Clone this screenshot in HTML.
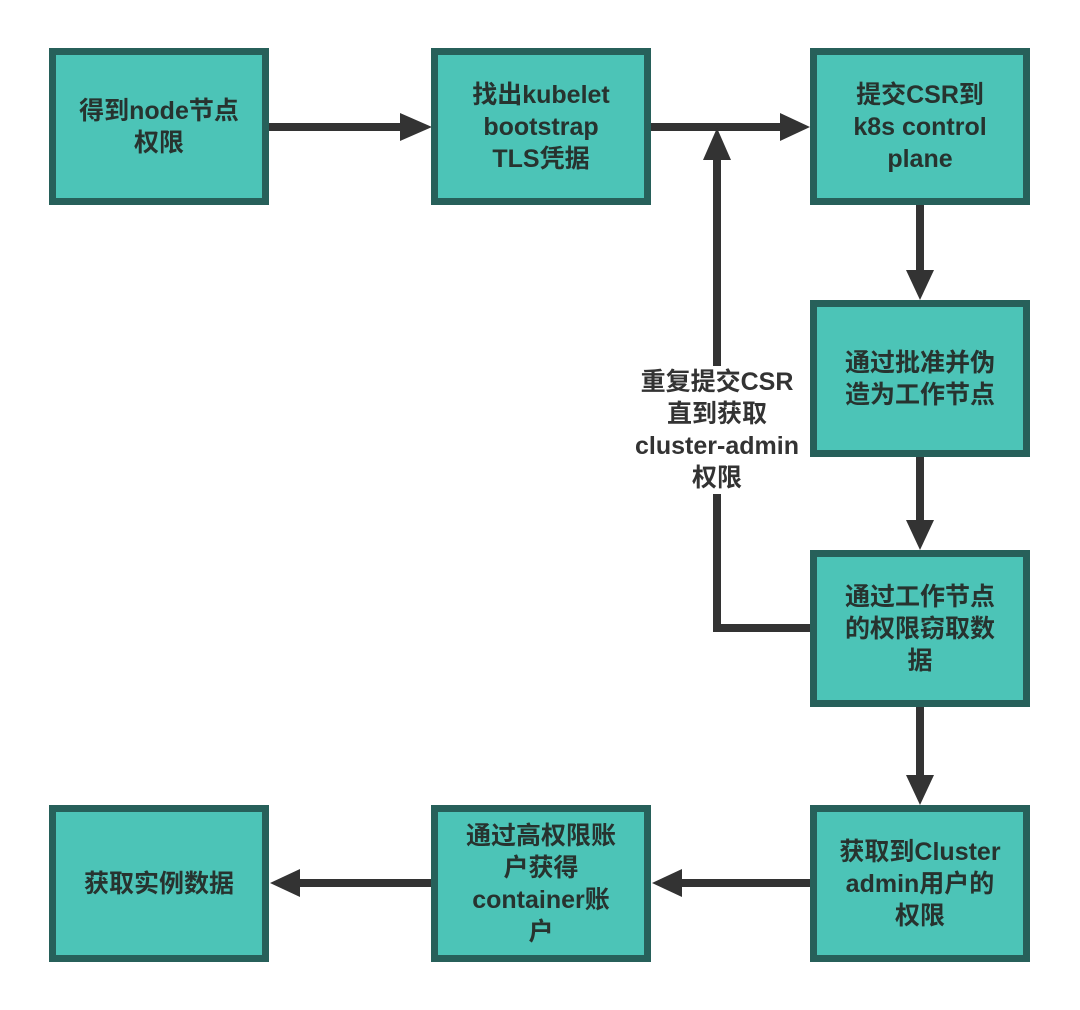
<!DOCTYPE html>
<html><head><meta charset="utf-8"><style>
body{margin:0;width:1080px;height:1010px;background:#fff;position:relative;overflow:hidden;font-family:"Liberation Sans","Noto Sans CJK SC",sans-serif}
.b{position:absolute;box-sizing:border-box;border:7px solid #27605a;background:#4cc4b7;display:flex;align-items:center;justify-content:center;text-align:center;font-weight:bold;font-size:25px;line-height:32px;color:#27332f;white-space:nowrap}
.lbl{position:absolute;left:627px;top:366px;width:180px;text-align:center;font-weight:bold;font-size:25px;line-height:32px;color:#333;background:#fff;white-space:nowrap}
svg{position:absolute;left:0;top:0}
</style></head><body>
<svg width="1080" height="1010">
<g stroke="#333" stroke-width="8" fill="none">
<line x1="268" y1="127" x2="405" y2="127"/>
<line x1="650" y1="127" x2="785" y2="127"/>
<line x1="920" y1="205" x2="920" y2="275"/>
<line x1="920" y1="456" x2="920" y2="525"/>
<line x1="920" y1="706" x2="920" y2="780"/>
<line x1="810" y1="883" x2="678" y2="883"/>
<line x1="432" y1="883" x2="296" y2="883"/>
<polyline points="810,628 717,628 717,155"/>
</g>
<g fill="#333">
<polygon points="400,113 432,127 400,141"/>
<polygon points="780,113 810,127 780,141"/>
<polygon points="906,270 920,300 934,270"/>
<polygon points="906,520 920,550 934,520"/>
<polygon points="906,775 920,805 934,775"/>
<polygon points="682,869 652,883 682,897"/>
<polygon points="300,869 270,883 300,897"/>
<polygon points="703,160 717,128 731,160"/>
</g>
</svg>
<div class="lbl">重复提交CSR<br>直到获取<br>cluster-admin<br>权限</div>
<div class="b" style="left:49px;top:48px;width:220px;height:157px">得到node节点<br>权限</div>
<div class="b" style="left:431px;top:48px;width:220px;height:157px">找出kubelet<br>bootstrap<br>TLS凭据</div>
<div class="b" style="left:810px;top:48px;width:220px;height:157px">提交CSR到<br>k8s control<br>plane</div>
<div class="b" style="left:810px;top:300px;width:220px;height:157px">通过批准并伪<br>造为工作节点</div>
<div class="b" style="left:810px;top:550px;width:220px;height:157px">通过工作节点<br>的权限窃取数<br>据</div>
<div class="b" style="left:810px;top:805px;width:220px;height:157px">获取到Cluster<br>admin用户的<br>权限</div>
<div class="b" style="left:431px;top:805px;width:220px;height:157px">通过高权限账<br>户获得<br>container账<br>户</div>
<div class="b" style="left:49px;top:805px;width:220px;height:157px">获取实例数据</div>
</body></html>
